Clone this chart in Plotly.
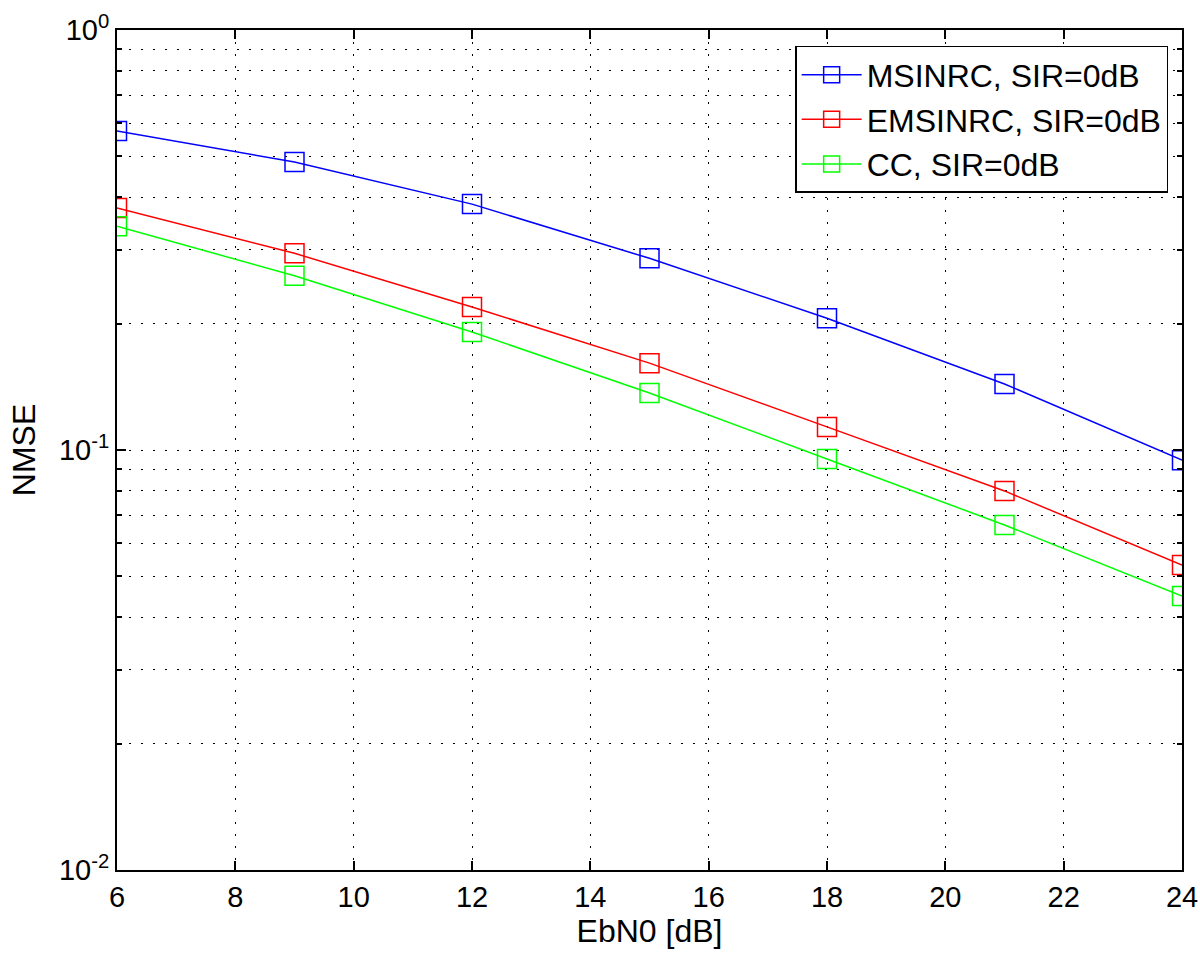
import plotly.graph_objects as go

ebn0 = [6, 9, 12, 15, 18, 21, 24]
msinrc = [0.575, 0.485, 0.385, 0.286, 0.206, 0.1436, 0.0946]
emsinrc = [0.377, 0.294, 0.219, 0.161, 0.1135, 0.0799, 0.0532]
cc = [0.341, 0.260, 0.191, 0.1367, 0.0952, 0.0663, 0.0449]

names = ["MSINRC, SIR=0dB", "EMSINRC, SIR=0dB", "CC, SIR=0dB"]
colors = ["#0000ff", "#ff0000", "#00ff00"]
series = [msinrc, emsinrc, cc]

x_ticks = [6, 8, 10, 12, 14, 16, 18, 20, 22, 24]
y_major = [0.01, 0.1, 1]
y_major_text = ["10<sup>-2</sup>", "10<sup>-1</sup>", "10<sup>0</sup>"]
y_minor = [m * d for d in (0.01, 0.1) for m in range(2, 10)]

FONT = "Arial, Liberation Sans, sans-serif"

fig = go.Figure()
for name, col, ys in zip(names, colors, series):
    fig.add_trace(go.Scatter(
        x=ebn0, y=ys, name=name, mode="lines+markers",
        line=dict(color=col, width=1.5),
        marker=dict(symbol="square-open", size=19, color=col, line=dict(width=1.5, color=col)),
    ))

dot = "2px,10px"
fig.update_layout(
    width=1200, height=960,
    margin=dict(l=117, r=18, t=30, b=90),
    paper_bgcolor="white", plot_bgcolor="white",
    font=dict(family=FONT, size=29, color="black"),
    showlegend=True,
    legend=dict(
        x=0.987, y=0.981, xanchor="right", yanchor="top",
        bgcolor="white", bordercolor="black", borderwidth=1.5,
        font=dict(family=FONT, size=32, color="black"),
        itemwidth=60, tracegroupgap=0,
    ),
    xaxis=dict(
        range=[6, 24], tickmode="array", tickvals=x_ticks,
        ticks="inside", ticklen=9, tickwidth=1.5, tickcolor="black",
        showline=True, linecolor="black", linewidth=2, mirror="ticks",
        showgrid=True, gridcolor="black", gridwidth=1, griddash=dot,
        zeroline=False, automargin=False, ticklabeloverflow="allow",
        title=dict(text="EbN0 [dB]", standoff=6, font=dict(size=32)),
        tickfont=dict(size=29),
    ),
    yaxis=dict(
        type="log", range=[-2, 0],
        tickmode="array", tickvals=y_major, ticktext=y_major_text,
        ticks="inside", ticklen=9, tickwidth=1.5, tickcolor="black",
        showline=True, linecolor="black", linewidth=2, mirror="ticks",
        showgrid=True, gridcolor="black", gridwidth=1, griddash=dot,
        zeroline=False, automargin=False, ticklabeloverflow="allow",
        minor=dict(tickmode="array", tickvals=y_minor, ticks="inside", ticklen=5,
                   tickcolor="black", tickwidth=1.5,
                   showgrid=True, gridcolor="black", gridwidth=1, griddash=dot),
        title=dict(text="NMSE", standoff=14, font=dict(size=32)),
        tickfont=dict(size=29),
    ),
)

fig.write_html(
    "out.html",
    config={"displayModeBar": False},
    post_script="document.body.style.margin='0px';document.body.style.overflow='hidden';",
)
